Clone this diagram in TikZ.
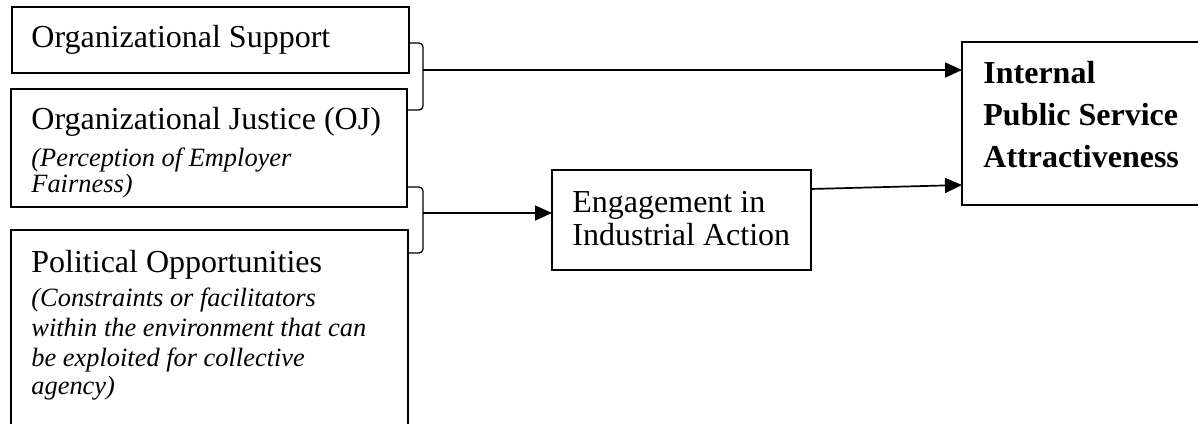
\documentclass[tikz,border=0pt]{standalone}
\usepackage{fontspec}
\setmainfont{Liberation Serif}
\usetikzlibrary{arrows.meta,calc}
\begin{document}
\begin{tikzpicture}[x=0.5pt,y=-0.5pt,
  box/.style={draw, line width=1pt, inner sep=0, outer sep=0, anchor=north west},
  txt/.style={anchor=base west, inner sep=0},
  maintxt/.style={txt, font=\fontsize{16}{19}\selectfont},
  subtxt/.style={txt, font=\fontsize{13.2}{15}\selectfont\itshape},
  boldtxt/.style={txt, font=\fontsize{16}{19}\selectfont\bfseries},
  bracket/.style={line width=0.65pt, rounded corners=2pt},
  link/.style={line width=0.85pt, -{Triangle[length=8.5pt,width=7.5pt]}}]
\useasboundingbox (0,0) rectangle (1198,423);
\clip (0,0) rectangle (1198,423);

% boxes
\node[box, minimum width=198.5pt, minimum height=33pt] (sup) at (12,7) {};
\node[box, minimum width=198pt, minimum height=59pt] (oj) at (11,89) {};
\node[box, minimum width=198.5pt, minimum height=110pt] (pol) at (11,230) {};
\node[box, minimum width=129.5pt, minimum height=50pt] (eng) at (552,170) {};
\node[box, minimum width=150pt, minimum height=81.5pt] (ipsa) at (962,42) {};

% texts
\node[maintxt] (tsup) at (31,47) {Organizational Support};
\node[maintxt] (toj) at (31,129) {Organizational Justice (OJ)};
\node[subtxt] (toj1) at (31,166) {(Perception of Employer};
\node[subtxt] (toj2) at (31,192) {Fairness)};
\node[maintxt] (tpol) at (31,272) {Political Opportunities};
\node[subtxt] (tpol1) at (31,306) {(Constraints or facilitators};
\node[subtxt] (tpol2) at (31,336) {within the environment that can};
\node[subtxt] (tpol3) at (31,366) {be exploited for collective};
\node[subtxt] (tpol4) at (31,394) {agency)};
\node[maintxt] (teng1) at (572,212) {Engagement in};
\node[maintxt] (teng2) at (572,245) {Industrial Action};
\node[boldtxt] (tipsa1) at (983,83) {Internal};
\node[boldtxt] (tipsa2) at (983,125) {Public Service};
\node[boldtxt] (tipsa3) at (983,167) {Attractiveness};

% brackets joining the inputs
\coordinate (j1) at (423,70);
\coordinate (j2) at (423,213);
\draw[bracket] (sup.east |- 0,43) -- (423,43) -- (423,110) -- (oj.east |- 0,110);
\draw[bracket] (oj.east |- 0,187) -- (423,187) -- (423,253) -- (pol.east |- 0,253);

% connectors
\draw[link] (j1) -- (ipsa.west |- j1);
\draw[link] (j2) -- (eng.west |- j2);
\draw[link] ($(eng.north east)+(0,19)$) -- ($(ipsa.south west)+(0,-20)$);
\end{tikzpicture}
\end{document}
